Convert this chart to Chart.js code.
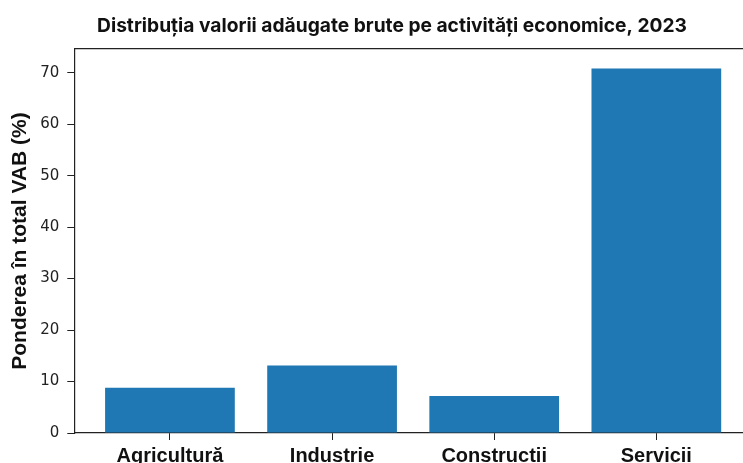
<!DOCTYPE html>
<html>
<head>
<meta charset="utf-8">
<script src="https://cdn.jsdelivr.net/npm/chart.js@4"></script>
<style>
  html, body { margin: 0; padding: 0; background: #fff; }
  #wrap { width: 743px; height: 463px; overflow: hidden; position: relative; }
  canvas { display: block; }
</style>
</head>
<body>
<div id="wrap"><canvas id="myChart" width="786" height="480"></canvas></div>
<script>
const categories = ["Agricultură", "Industrie", "Constructii", "Servicii"];
const shares = [8.8, 13.1, 7.2, 70.8];
const yTicks = [0, 10, 20, 30, 40, 50, 60, 70];

const ctx = document.getElementById("myChart");
new Chart(ctx, {
    type: "bar",
    data: {
        datasets: [
            {
                label: "Ponderea în total VAB (%)",
                data: shares.map((v, i) => ({ x: i, y: v })),
                backgroundColor: "#1f77b4",
                borderWidth: 0,
                categoryPercentage: 0.8,
                barPercentage: 1.0,
            },
        ],
    },
    options: {
        responsive: false,
        animation: false,
        layout: { padding: { left: 32, right: 34, top: 8, bottom: 8 } },
        plugins: {
            legend: { display: false },
            tooltip: { enabled: false },
            title: {
                display: true,
                text: "Distribuția valorii adăugate brute pe activități economice, 2023",
                color: "#111",
                font: { family: "Inter", size: 19.2, weight: "bold" },
                padding: { top: 7, bottom: 3 },
            },
        },
        scales: {
            x: {
                type: "linear",
                min: -0.59,
                max: 3.59,
                offset: false,
                afterBuildTicks: (s) => { s.ticks = categories.map((c, i) => ({ value: i })); },
                ticks: {
                    callback: (v) => categories[v],
                    color: "#111",
                    font: { family: "Liberation Sans", size: 20, weight: "bold" },
                    padding: 4,
                    maxRotation: 0,
                },
                grid: { offset: false, drawOnChartArea: false, tickLength: 7, color: "#222" },
                border: { color: "#222", width: 1.2 },
            },
            x2: {
                type: "linear",
                position: "top",
                min: -0.59,
                max: 3.59,
                ticks: { display: false },
                grid: { display: false },
                border: { display: true, color: "#222", width: 1.2 },
            },
            y: {
                min: 0,
                max: 74.6,
                afterBuildTicks: (s) => { s.ticks = yTicks.map((v) => ({ value: v })); },
                ticks: {
                    color: "#222",
                    font: { family: "DejaVu Sans", size: 15 },
                    padding: 8,
                },
                grid: { drawOnChartArea: false, tickLength: 7, color: "#222" },
                border: { color: "#222", width: 1.2 },
                title: {
                    display: true,
                    text: "Ponderea în total VAB (%)",
                    color: "#111",
                    font: { family: "Liberation Sans", size: 21, weight: "bold" },
                    padding: { top: -24, bottom: -1 },
                },
            },
        },
    },
});
</script>
</body>
</html>
